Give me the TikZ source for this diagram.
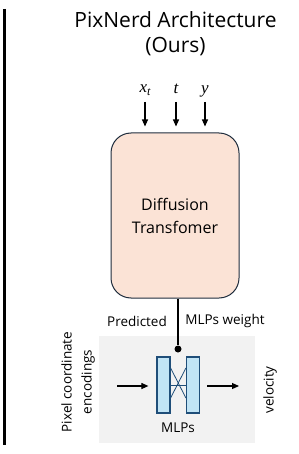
\documentclass[tikz,border=0pt]{standalone}
\usepackage{fontspec}
\setmainfont{Open Sans}
\definecolor{DiTPeach}{HTML}{FBE3D6}
\definecolor{DiTEdge}{HTML}{1F2D3D}
\definecolor{MLPBlue}{HTML}{C1E4F5}
\definecolor{MLPEdge}{HTML}{1F4E79}
\definecolor{PanelGray}{HTML}{F2F2F2}
\usetikzlibrary{arrows.meta, positioning, calc}
\newfontfamily\mathlike{Liberation Serif}

\begin{document}
\begin{tikzpicture}[
    x=1pt, y=-1pt,
    txt/.style={inner sep=0pt, align=center, font=\fontsize{13.5}{16}\selectfont},
    mth/.style={inner sep=0pt, font=\mathlike\itshape\fontsize{17}{20}\selectfont},
    arr/.style={-{Triangle[length=7pt, width=6pt]}, line width=1.1pt, black},
    bar/.style={draw=MLPEdge, fill=MLPBlue, line width=1.2pt, minimum width=13pt, minimum height=56pt, inner sep=0pt}
]
    \useasboundingbox (0,0) rectangle (299,454);
    \draw[line width=2.6pt] (4.5,9) -- (4.5,445);

    \node[txt, font=\fontsize{21}{25}\selectfont] (title) at (175.5,34) {PixNerd Architecture\\(Ours)};

    % inputs
    \node[mth] (inX) at (145,90) {x\raisebox{-3pt}{\fontsize{12}{12}\selectfont t}};
    \node[mth] (inT) at (176,89) {t};
    \node[mth] (inY) at (205,91) {y};

    \node[draw=DiTEdge, fill=DiTPeach, rounded corners=20pt, line width=1pt, minimum width=128pt, minimum height=165pt, align=center, font=\fontsize{16}{23}\selectfont] (dit) at (175,215.5) {Diffusion\\Transfomer};

    \draw[arr] (inX.south |- 0,102) -- ($(inX.south |- dit.north)+(0,-6)$);
    \draw[arr] (inT.south |- 0,102) -- ($(inT.south |- dit.north)+(0,-6)$);
    \draw[arr] (inY.south |- 0,102) -- ($(inY.south |- dit.north)+(0,-6)$);

    % MLP panel
    \node[fill=PanelGray, minimum width=156pt, minimum height=107pt, inner sep=0pt] (panel) at (177,389.5) {};
    \node[bar] (mlpL) at (163.5,385) {};
    \node[bar] (mlpR) at (193,385) {};
    \draw[MLPEdge, line width=0.8pt] (mlpL.east) -- (mlpR.west);
    \draw[MLPEdge, line width=0.8pt] ([yshift=-13pt]mlpL.east) -- ([yshift=17pt]mlpR.west);
    \draw[MLPEdge, line width=0.8pt] ([yshift=17pt]mlpL.east) -- ([yshift=-13pt]mlpR.west);
    \node[txt] (mlps) at (178,428) {MLPs};

    \node[circle, fill=black, inner sep=0pt, minimum size=7pt] (wdot) at (178,349) {};
    \draw[line width=1.1pt] (wdot |- dit.south) -- (wdot);
    \node[txt] (pred) at (137,321) {Predicted};
    \node[txt] (mlpw) at (225,321) {MLPs weight};

    \coordinate (pcIn) at (117,386);
    \coordinate (velOut) at (239,386);
    \draw[arr, shorten >=8pt] (pcIn) -- (mlpL.west |- pcIn);
    \draw[arr, shorten <=7pt] (mlpR.east |- velOut) -- (velOut);

    \node[txt, rotate=90, font=\fontsize{13.5}{20}\selectfont] (pce) at (78,382) {Pixel coordinate\\encodings};
    \node[txt, rotate=90] (vel) at (270,390) {velocity};
\end{tikzpicture}
\end{document}
